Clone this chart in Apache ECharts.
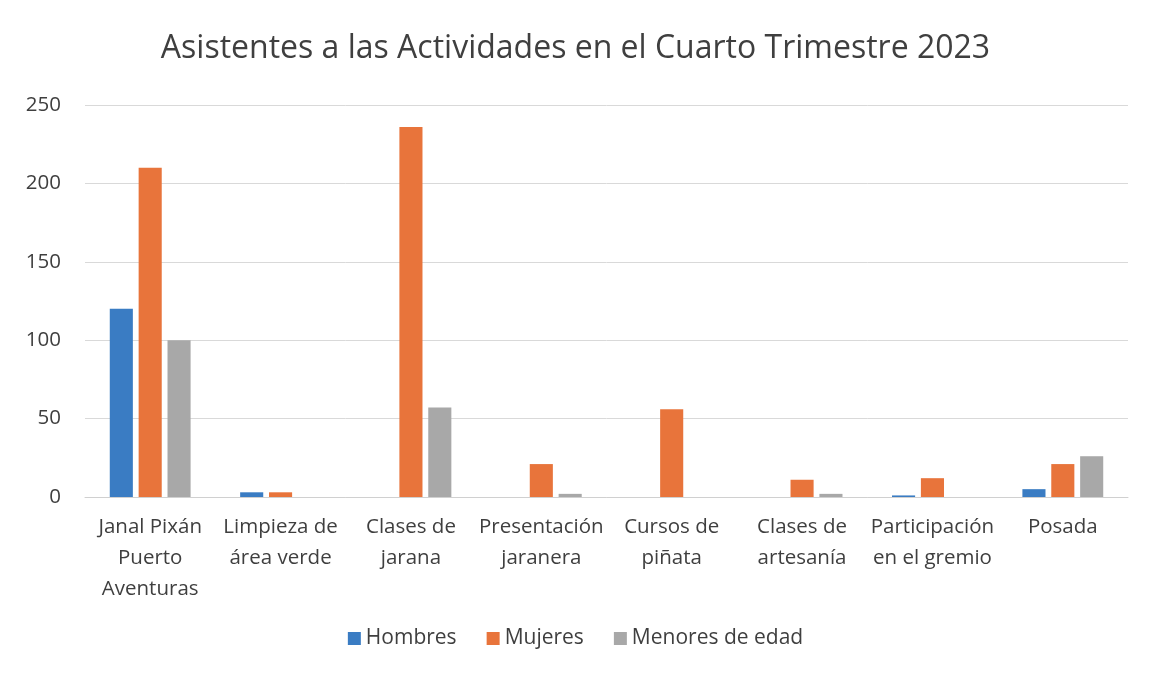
<!DOCTYPE html>
<html><head><meta charset="utf-8">
<script src="https://cdn.jsdelivr.net/npm/echarts@6/dist/echarts.min.js"></script>
<style>html,body{margin:0;padding:0;background:#fff}#c{width:1151px;height:677px}</style>
</head><body><div id="c"></div>
<script>
const title = 'Asistentes a las Actividades en el Cuarto Trimestre 2023';
const categories = ['Janal Pixán\nPuerto\nAventuras','Limpieza de\nárea verde','Clases de\njarana','Presentación\njaranera','Cursos de\npiñata','Clases de\nartesanía','Participación\nen el gremio','Posada'];
const hombres = [120, 3, 0, 0, 0, 0, 1, 5];
const mujeres = [210, 3, 236, 21, 56, 11, 12, 21];
const menores = [100, 0, 57, 2, 0, 2, 0, 26];
const seriesNames = ['Hombres','Mujeres','Menores de edad'];
const yTicks = [0, 50, 100, 150, 200, 250];

const font = '"Open Sans", "Noto Sans", sans-serif';
const chart = echarts.init(document.getElementById('c'));
chart.setOption({
  animation: false,
  color: ['#3a7cc3', '#e8743b', '#a8a8a8'],
  title: { text: title, left: 'center', top: 28, textStyle: { fontFamily: font, fontSize: 32, fontWeight: 'normal', color: '#3f3f3f' } },
  legend: { bottom: 23, itemWidth: 13, itemHeight: 13, itemGap: 30, icon: 'rect',
    textStyle: { fontFamily: font, fontSize: 21, color: '#3f3f3f' }, data: seriesNames },
  grid: { left: 85, right: 23, top: 105, bottom: 180 },
  xAxis: { type: 'category', data: categories,
    axisLine: { lineStyle: { color: '#d0d0d0' } }, axisTick: { show: false },
    axisLabel: { fontFamily: font, fontSize: 20.5, color: '#3f3f3f', lineHeight: 31, margin: 15, interval: 0 } },
  yAxis: { type: 'value', min: yTicks[0], max: yTicks[yTicks.length-1], interval: 50,
    axisLine: { show: false }, axisTick: { show: false },
    axisLabel: { fontFamily: font, fontSize: 20.5, color: '#3f3f3f', margin: 24 },
    splitLine: { lineStyle: { color: '#d9d9d9' } } },
  series: [
    { name: seriesNames[0], type: 'bar', data: hombres, barGap: '25%', barCategoryGap: '38%' },
    { name: seriesNames[1], type: 'bar', data: mujeres },
    { name: seriesNames[2], type: 'bar', data: menores }
  ]
});
</script></body></html>
